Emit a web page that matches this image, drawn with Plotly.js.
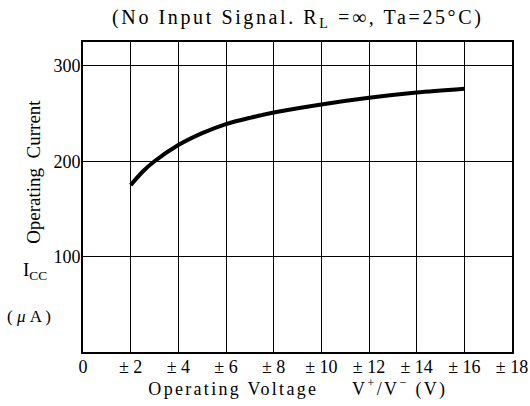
<!DOCTYPE html>
<html>
<head>
<meta charset="utf-8">
<script src="https://cdn.plot.ly/plotly-3.0.1.min.js"></script>
<style>
html,body{margin:0;padding:0;background:#fff;}
g.annotation[data-index="0"] text{letter-spacing:2.6px;}
g.annotation[data-index="2"] text{letter-spacing:2.3px;}
</style>
</head>
<body>
<div id="chart" style="width:530px;height:406px;"></div>
<script>
// Operating voltage (±V) and operating current (µA)
var voltage = [2, 2.5, 3, 4, 5, 6, 7, 8, 10, 12, 14, 16];
var current = [175, 189, 200, 217, 229.5, 239, 245.5, 251, 259.5, 266.5, 272, 276];
var xTickVals = [0, 2, 4, 6, 8, 10, 12, 14, 16, 18];
var xTickText = ['0', '± 2', '± 4', '± 6', '± 8', '± 10', '± 12', '± 14', '± 16', '± 18'];
var yTickVals = [100, 200, 300];
var yTickText = ['100', '200', '300'];

var serif = 'Liberation Serif, Times New Roman, serif';

var trace = {
  x: voltage, y: current, type: 'scatter', mode: 'lines',
  line: {color: '#000', width: 4, shape: 'spline', smoothing: 0.8},
  hoverinfo: 'skip'
};

var layout = {
  width: 530, height: 406,
  margin: {l: 83, r: 18, t: 42, b: 54},
  paper_bgcolor: '#fff', plot_bgcolor: '#fff',
  showlegend: false,
  font: {family: serif, color: '#000', size: 18},
  xaxis: {
    range: [0, 18], tickvals: xTickVals, ticktext: xTickText,
    showgrid: true, gridcolor: '#000', gridwidth: 1,
    showline: true, mirror: true, linecolor: '#000', linewidth: 2,
    zeroline: false, ticks: '', ticklabelstandoff: -3,
    tickfont: {family: serif, size: 18, color: '#000'}
  },
  yaxis: {
    range: [0, 325], tickvals: yTickVals, ticktext: yTickText,
    showgrid: true, gridcolor: '#000', gridwidth: 1,
    showline: true, mirror: true, linecolor: '#000', linewidth: 2,
    zeroline: false, ticks: '', ticklabelstandoff: -3,
    tickfont: {family: serif, size: 18, color: '#000'}
  },
  annotations: [
    {text: '(No Input Signal. R<sub>L</sub> =∞, Ta=25°C)', xref: 'paper', yref: 'paper',
     x: 0.50, y: 1, yshift: 24, xanchor: 'center', yanchor: 'middle', showarrow: false,
     font: {family: serif, size: 20, color: '#000'}},
    {text: 'Operating  Current', xref: 'paper', yref: 'paper', x: -0.115, y: 0.58,
     xanchor: 'center', yanchor: 'middle', showarrow: false, textangle: -90,
     font: {family: serif, size: 19, color: '#000'}},
    {text: 'Operating Voltage     V<sup>+</sup>/V<sup>−</sup> (V)', xref: 'paper', yref: 'paper',
     x: 0.50, y: 0, yshift: -36, xanchor: 'center', yanchor: 'middle', showarrow: false,
     font: {family: serif, size: 18, color: '#000'}},
    {text: 'I<sub>CC</sub>', xref: 'paper', yref: 'paper', x: -0.112, y: 0.26,
     xanchor: 'center', yanchor: 'middle', showarrow: false,
     font: {family: serif, size: 19, color: '#000'}},
    {text: '( <i>μ</i> A )', xref: 'paper', yref: 'paper', x: -0.125, y: 0.115,
     xanchor: 'center', yanchor: 'middle', showarrow: false,
     font: {family: serif, size: 17, color: '#000'}}
  ]
};

Plotly.newPlot('chart', [trace], layout, {displayModeBar: false, staticPlot: true});
</script>
</body>
</html>
